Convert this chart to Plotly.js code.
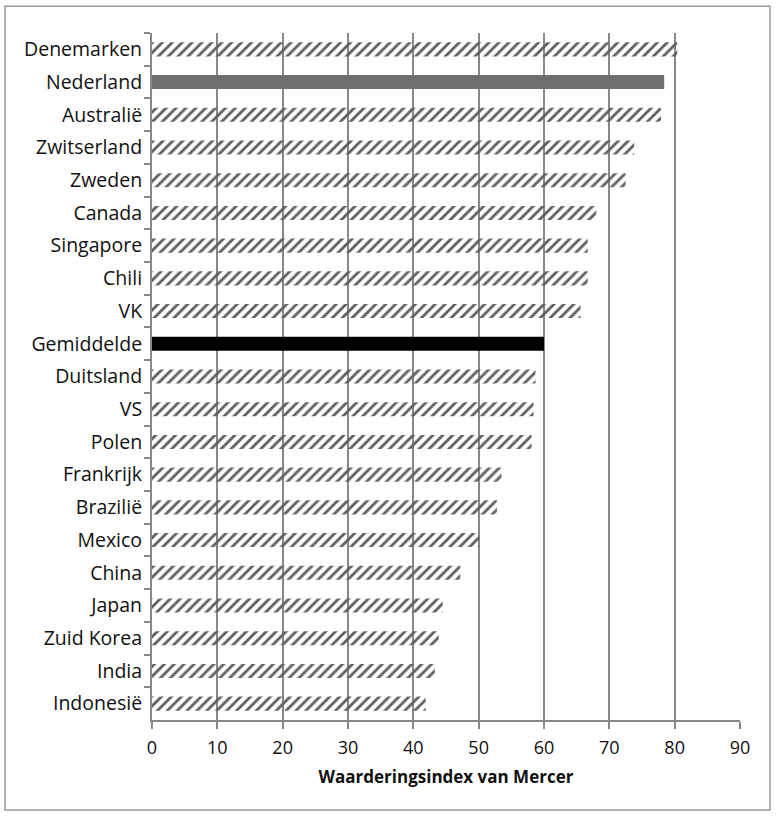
<!DOCTYPE html>
<html>
<head>
<meta charset="utf-8">
<script src="https://cdn.plot.ly/plotly-3.0.1.min.js"></script>
<style>body{margin:0;background:#fff}#chart{width:776px;height:816px}</style>
</head>
<body>
<div id="chart"></div>
<script>
const countries = ["Denemarken","Nederland","Australië","Zwitserland","Zweden","Canada","Singapore","Chili","VK","Gemiddelde","Duitsland","VS","Polen","Frankrijk","Brazilië","Mexico","China","Japan","Zuid Korea","India","Indonesië"];
const scores = [80.4,78.4,77.9,73.8,72.5,68.0,66.7,66.7,65.6,60.0,58.7,58.4,58.1,53.5,52.8,50.1,47.2,44.5,43.9,43.3,41.9];
const xTicks = [0,10,20,30,40,50,60,70,80,90];
const xTitle = "Waarderingsindex van Mercer";

const colors = countries.map(c => c === "Nederland" ? "#6e6e6e" : (c === "Gemiddelde" ? "#000000" : "#606060"));
const shapes = countries.map(c => (c === "Nederland" || c === "Gemiddelde") ? "" : "/");

const trace = {
  type: "bar",
  orientation: "h",
  y: countries,
  x: scores,
  width: 0.43,
  marker: {
    color: colors,
    line: {width: 0},
    pattern: {shape: shapes, bgcolor: "#ffffff", size: 7, solidity: 0.4}
  },
  hoverinfo: "x+y"
};

const font = "'Open Sans', sans-serif";
const txt = "#111111";
const layout = {
  width: 776, height: 816,
  margin: {l: 152, r: 36, t: 33, b: 96},
  paper_bgcolor: "#fff", plot_bgcolor: "#fff",
  showlegend: false,
  font: {family: font, size: 17, color: txt},
  xaxis: {
    range: [0, 90], tickvals: xTicks, ticktext: xTicks.map(String),
    showgrid: true, gridcolor: "#888888", gridwidth: 2,
    zeroline: false, showline: true, linecolor: "#888888", linewidth: 2,
    ticks: "outside", ticklen: 7, tickcolor: "#888888", tickwidth: 2,
    tickfont: {family: font, size: 18, color: txt},
    ticklabelstandoff: 3,
    title: {text: "<b>" + xTitle + "</b>", font: {family: font, size: 17, color: txt}, standoff: 14},
    fixedrange: true
  },
  yaxis: {
    type: "category", autorange: "reversed",
    showgrid: false, zeroline: false, showline: true, linecolor: "#888888", linewidth: 2,
    ticks: "outside", tickson: "boundaries", ticklen: 6, tickcolor: "#888888", tickwidth: 2,
    tickfont: {family: font, size: 19.5, color: txt},
    ticklabelstandoff: 4,
    fixedrange: true
  },
  shapes: [{
    type: "rect", xref: "paper", yref: "paper",
    x0: -0.25, x1: 1.051, y0: -0.131, y1: 1.039,
    line: {color: "#999999", width: 1.5}, fillcolor: "rgba(0,0,0,0)", layer: "below"
  }]
};

Plotly.newPlot("chart", [trace], layout, {displayModeBar: false, staticPlot: true});
</script>
</body>
</html>
